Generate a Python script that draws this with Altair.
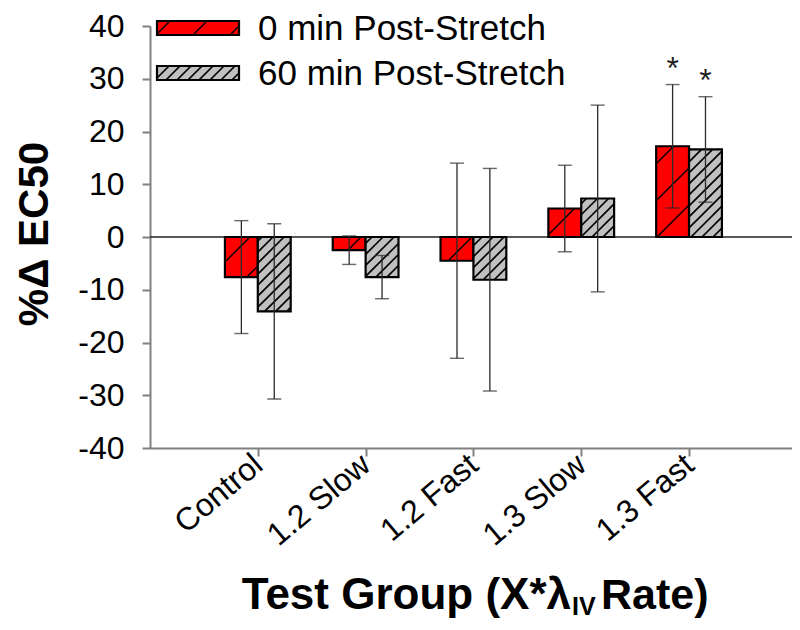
import json
import math
import altair as alt
import pandas as pd

# ---------------- data ----------------
groups = ["Control", "1.2 Slow", "1.2 Fast", "1.3 Slow", "1.3 Fast"]
series = ["0 min Post-Stretch", "60 min Post-Stretch"]
mean_0 = [-7.6, -2.5, -4.5, 5.4, 17.2]
err_0 = [10.7, 2.7, 18.5, 8.2, 11.7]
mean_60 = [-14.1, -7.6, -8.1, 7.3, 16.6]
err_60 = [16.6, 4.1, 21.1, 17.7, 10.0]
sig_0 = ["", "", "", "", "*"]
sig_60 = ["", "", "", "", "*"]
y_ticks = [-40, -30, -20, -10, 0, 10, 20, 30, 40]

# ---------------- layout / style ----------------
W, H = 642, 422
TOP = 18
X_MIN, X_MAX = 0.0, 5.955
Y_MIN, Y_MAX = -40.0, 40.0
PX_X = W / (X_MAX - X_MIN)
PX_Y = H / (Y_MAX - Y_MIN)
BAR_W = 0.305
FILL = {series[0]: "#ff0000", series[1]: "#c0c0c0"}
HATCH_SP = {series[0]: 37.0, series[1]: 11.0}
HATCH_W = {series[0]: 1.4, series[1]: 1.7}
FONT = "Liberation Sans"
AX_GREY = "#808080"
# legend swatches in plot pixels (left, top, right, bottom)
LEG_BOX = [(7, -5, 89, 9), (7, 40, 89, 54)]
LEG_TEXT = [(108, 14), (108, 59)]

means = [mean_0, mean_60]
errs = [err_0, err_60]
sigs = [sig_0, sig_60]

rows = []
for i, g in enumerate(groups):
    pos = i + 1
    for j, s in enumerate(series):
        x0 = pos - BAR_W if j == 0 else pos
        rows.append(dict(group=g, series=s, x0=x0, x1=x0 + BAR_W,
                         cx=x0 + BAR_W / 2, y0=0.0, y1=means[j][i],
                         err=errs[j][i], sig=sigs[j][i], kind="bar",
                         fill=FILL[s]))
bars = pd.DataFrame(rows)


def px_to_x(u):
    return X_MIN + u / PX_X


def px_to_y(v):
    return Y_MAX - v / PX_Y


leg_rows = []
for s, (l, t, r, b) in zip(series, LEG_BOX):
    leg_rows.append(dict(group="", series=s, x0=px_to_x(l), x1=px_to_x(r),
                         cx=0, y0=px_to_y(b), y1=px_to_y(t), err=0, sig="",
                         kind="legend", fill=FILL[s]))
rects = pd.concat([bars, pd.DataFrame(leg_rows)], ignore_index=True)


def hatch(x0, x1, y0, y1, sp):
    U0, U1 = sorted(((x0 - X_MIN) * PX_X, (x1 - X_MIN) * PX_X))
    V0, V1 = sorted(((y0 - Y_MIN) * PX_Y, (y1 - Y_MIN) * PX_Y))
    out = []
    kmin = math.floor((V0 - U1) / sp)
    kmax = math.ceil((V1 - U0) / sp)
    for k in range(kmin, kmax + 1):
        c = k * sp
        ua = max(U0, V0 - c)
        ub = min(U1, V1 - c)
        if ub - ua > 0.8:
            out.append((X_MIN + ua / PX_X, Y_MIN + (ua + c) / PX_Y,
                        X_MIN + ub / PX_X, Y_MIN + (ub + c) / PX_Y))
    return out


h_rows = []
for _, r in rects.iterrows():
    for (a, b, c, d) in hatch(r.x0, r.x1, r.y0, r.y1, HATCH_SP[r.series]):
        h_rows.append(dict(hx0=a, hy0=b, hx1=c, hy1=d, sw=HATCH_W[r.series]))
hatch_df = pd.DataFrame(h_rows)

# ---------------- scales / axes ----------------
label_expr = json.dumps(groups) + "[datum.value - 1]"
x_scale = alt.Scale(domain=[X_MIN, X_MAX], nice=False, zero=False)
y_scale = alt.Scale(domain=[Y_MIN, Y_MAX], nice=False, zero=False)
x_axis = alt.Axis(values=[1, 2, 3, 4, 5], labelExpr=label_expr, labelAngle=320,
                  labelAlign="right", labelBaseline="middle", labelPadding=4,
                  labelFontSize=32, labelFont=FONT, labelColor="black",
                  tickSize=8, tickWidth=2, tickColor=AX_GREY, domainColor=AX_GREY,
                  domainWidth=2, grid=False, labelFlush=False, labelOverlap=False,
                  title=None)
y_axis = alt.Axis(values=y_ticks, labelExpr="'' + datum.value",
                  labelFontSize=32, labelFont=FONT,
                  labelColor="black", labelPadding=18, tickSize=8, tickWidth=2,
                  tickColor=AX_GREY, domainColor=AX_GREY, domainWidth=2,
                  grid=False, labelFlush=False, labelOverlap=False, title=None)

base = alt.Chart(rects)

zero = alt.Chart(pd.DataFrame({"z": [0]})).mark_rule(
    color="#222222", strokeWidth=1.3
).encode(y=alt.Y("z:Q", scale=y_scale, axis=y_axis, title=None))

rect_layer = base.mark_rect(stroke="black", strokeWidth=2.2).encode(
    x=alt.X("x0:Q", scale=x_scale, axis=x_axis, title=None),
    x2="x1:Q",
    y=alt.Y("y0:Q", scale=y_scale, title=None),
    y2="y1:Q",
    color=alt.Color("fill:N", scale=None),
)

hatch_layer = alt.Chart(hatch_df).mark_rule(color="black", strokeCap="butt").encode(
    x=alt.X("hx0:Q", title=None),
    x2="hx1:Q",
    y=alt.Y("hy0:Q", title=None),
    y2="hy1:Q",
    strokeWidth=alt.StrokeWidth("sw:Q", scale=None),
)

bar_base = alt.Chart(bars).transform_calculate(
    lo="datum.y1 - datum.err", hi="datum.y1 + datum.err"
)

err_rule = bar_base.mark_rule(color="#2a2a2a", strokeWidth=1.3).encode(
    x=alt.X("cx:Q", title=None),
    y=alt.Y("lo:Q", title=None),
    y2="hi:Q",
)

caps = bar_base.transform_fold(["lo", "hi"], as_=["end", "val"]).mark_tick(
    orient="horizontal", size=14, thickness=1.4, color="#2a2a2a"
).encode(
    x=alt.X("cx:Q", title=None),
    y=alt.Y("val:Q", title=None),
)

stars = bar_base.transform_filter("datum.sig != ''").mark_text(
    font=FONT, fontSize=32, baseline="alphabetic", align="center", dy=-6,
    color="#222222"
).encode(
    x=alt.X("cx:Q", title=None),
    y=alt.Y("hi:Q", title=None),
    text="sig:N",
)


def label(text, x, y, size, weight="normal", align="left", baseline="alphabetic", angle=0):
    kw = dict(font=FONT, fontSize=size, fontWeight=weight, align=align,
              baseline=baseline, color="black")
    if angle:
        kw["angle"] = angle
    return alt.Chart(pd.DataFrame({"t": [text]})).mark_text(**kw).encode(
        x=alt.value(x), y=alt.value(y), text="t:N"
    )


legend_texts = [label(s, x, y, 35) for s, (x, y) in zip(series, LEG_TEXT)]

y_title = label("%\u0394 EC50", -115, 208, 42, weight="bold", align="center",
                baseline="middle", angle=270)
x_title_a = label("Test Group (X*\u03bb", 421, 583, 44, weight="bold", align="right")
x_title_b = label("IV", 422, 589, 25, weight="bold", align="left")
x_title_c = label("Rate)", 451, 583, 43, weight="bold", align="left")

chart = alt.layer(
    zero, rect_layer, hatch_layer, err_rule, caps, stars,
    *legend_texts, y_title, x_title_a, x_title_b, x_title_c
).properties(
    width=W, height=H,
    autosize=alt.AutoSizeParams(type="none"),
    padding={"left": 142, "top": TOP, "right": 0, "bottom": 614 - TOP - H},
).configure_view(stroke=None)

chart.save("out.html", embed_options={"renderer": "svg", "actions": False})
